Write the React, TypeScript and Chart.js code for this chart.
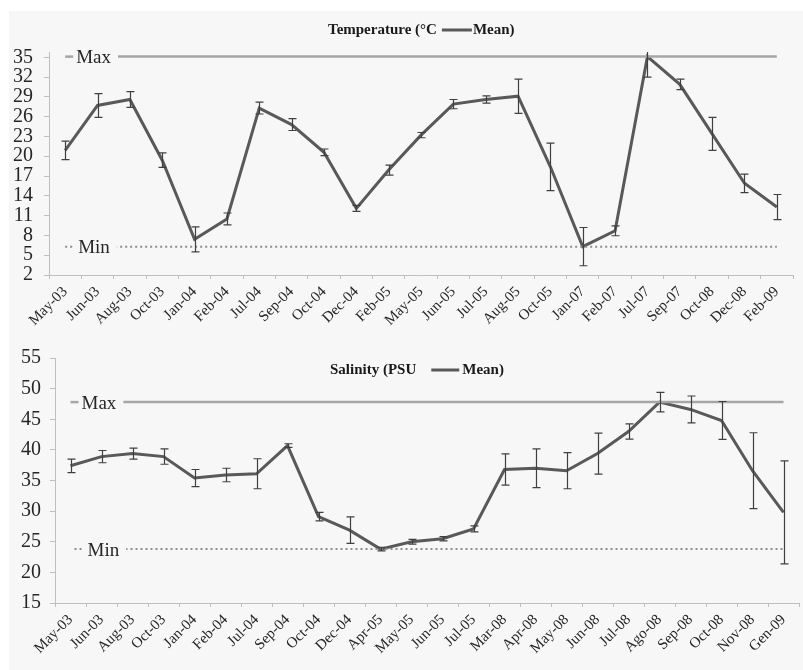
import React, { useEffect, useRef } from "react";
import { Chart, registerables } from "chart.js";

Chart.register(...registerables);

// ---------- Data ----------
const tempCategories = ["May-03", "Jun-03", "Aug-03", "Oct-03", "Jan-04", "Feb-04", "Jul-04", "Sep-04", "Oct-04", "Dec-04", "Feb-05", "May-05", "Jun-05", "Jul-05", "Aug-05", "Oct-05", "Jan-07", "Feb-07", "Jul-07", "Sep-07", "Oct-08", "Dec-08", "Feb-09"];
const tempMean = [20.9, 27.7, 28.6, 19.4, 7.4, 10.5, 27.3, 24.8, 20.6, 12.1, 17.9, 23.2, 27.9, 28.6, 29.1, 18.4, 6.3, 8.7, 35.1, 30.9, 23.4, 15.9, 12.3];
const tempErr = [1.4, 1.8, 1.2, 1.1, 1.9, 0.9, 0.9, 0.9, 0.5, 0.45, 0.75, 0.4, 0.7, 0.55, 2.6, 3.6, 2.9, 0.75, 3.1, 0.8, 2.5, 1.4, 1.9];
const tempMax = 35.1;
const tempMin = 6.3;
const tempTicks = [2, 5, 8, 11, 14, 17, 20, 23, 26, 29, 32, 35];

const salCategories = ["May-03", "Jun-03", "Aug-03", "Oct-03", "Jan-04", "Feb-04", "Jul-04", "Sep-04", "Oct-04", "Dec-04", "Apr-05", "May-05", "Jun-05", "Jul-05", "Mar-08", "Apr-08", "May-08", "Jun-08", "Jul-08", "Ago-08", "Sep-08", "Oct-08", "Nov-08", "Gen-09"];
const salMean = [37.4, 38.9, 39.4, 38.9, 35.4, 35.9, 36.1, 40.7, 29.1, 26.9, 23.8, 25.0, 25.5, 27.1, 36.8, 37.0, 36.6, 39.4, 43.0, 47.8, 46.6, 44.8, 36.6, 29.8];
const salErr = [1.1, 1.0, 0.9, 1.25, 1.4, 1.1, 2.45, 0.3, 0.7, 2.15, 0.3, 0.4, 0.35, 0.5, 2.55, 3.15, 2.95, 3.35, 1.25, 1.6, 2.2, 3.1, 6.2, 8.4];
const salMax = 47.8;
const salMin = 23.8;
const salTicks = [15, 20, 25, 30, 35, 40, 45, 50, 55];

// ---------- Styles ----------
const SERIF = "'Liberation Serif', 'Times New Roman', serif";
const PANEL = "#f7f7f7";
const MEAN_COLOR = "#595959";
const MAX_COLOR = "#a6a6a6";
const MIN_COLOR = "#8c8c8c";
const AXIS_COLOR = "#bfbfbf";
const TEXT_COLOR = "#262626";

const errorBarPlugin = {
  id: "errorBars",
  afterDatasetsDraw(chart: any, _args: any, opts: any) {
    const meta = chart.getDatasetMeta(opts.datasetIndex);
    const data = chart.data.datasets[opts.datasetIndex].data;
    const ys = chart.scales.y;
    const ctx = chart.ctx;
    const a = chart.chartArea;
    ctx.save();
    ctx.beginPath();
    ctx.rect(a.left, a.top, a.right - a.left, a.bottom - a.top);
    ctx.clip();
    ctx.strokeStyle = opts.color;
    ctx.lineWidth = 1.2;
    meta.data.forEach((pt: any, i: number) => {
      const v = data[i];
      const e = opts.errors[i];
      const x = Math.round(pt.x) + 0.5;
      const y1 = ys.getPixelForValue(v + e);
      const y2 = ys.getPixelForValue(v - e);
      ctx.beginPath();
      ctx.moveTo(x, y1);
      ctx.lineTo(x, y2);
      ctx.moveTo(x - 4, y1);
      ctx.lineTo(x + 4, y1);
      ctx.moveTo(x - 4, y2);
      ctx.lineTo(x + 4, y2);
      ctx.stroke();
    });
    ctx.restore();
  },
};

const refLabelPlugin = {
  id: "refLabels",
  afterDatasetsDraw(chart: any, _args: any, opts: any) {
    const ctx = chart.ctx;
    ctx.save();
    ctx.font = `19px ${SERIF}`;
    (opts.items || []).forEach((it: any) => {
      const meta = chart.getDatasetMeta(it.datasetIndex);
      const p = meta.data[0];
      const x0 = p.x + (it.offset || 0);
      const y = p.y;
      const keyLen = it.dotted ? 10 : 8;
      const tw = ctx.measureText(it.text).width;
      const textX = x0 + keyLen + 3;
      ctx.fillStyle = PANEL;
      ctx.fillRect(p.x - 6, y - 11, textX + tw + 7 - (p.x - 6), 22);
      ctx.strokeStyle = it.color;
      ctx.lineWidth = it.width;
      ctx.setLineDash(it.dotted ? [2, 3] : []);
      ctx.beginPath();
      ctx.moveTo(x0, y);
      ctx.lineTo(x0 + keyLen, y);
      ctx.stroke();
      ctx.setLineDash([]);
      ctx.fillStyle = TEXT_COLOR;
      ctx.textBaseline = "alphabetic";
      ctx.textAlign = "left";
      ctx.fillText(it.text, textX, y + 6.5);
    });
    ctx.restore();
  },
};

const titlePlugin = {
  id: "titleRow",
  afterDraw(chart: any, _args: any, opts: any) {
    const ctx = chart.ctx;
    ctx.save();
    ctx.font = `bold 15px ${SERIF}`;
    ctx.fillStyle = "#1a1a1a";
    ctx.textBaseline = "middle";
    ctx.textAlign = "left";
    ctx.fillText(opts.text1, opts.x, opts.y);
    const w1 = ctx.measureText(opts.text1).width;
    const lx = opts.x + w1 + opts.gap1;
    ctx.strokeStyle = MEAN_COLOR;
    ctx.lineWidth = 3;
    ctx.beginPath();
    ctx.moveTo(lx, opts.y);
    ctx.lineTo(lx + opts.lineLen, opts.y);
    ctx.stroke();
    ctx.fillText(opts.text2, lx + opts.lineLen + opts.gap2, opts.y);
    ctx.restore();
  },
};

function buildConfig(p: any) {
  return {
    type: "line",
    data: {
      labels: p.categories,
      datasets: [
        {
          label: "Max",
          data: p.categories.map(() => p.maxVal),
          borderColor: MAX_COLOR,
          borderWidth: 2.5,
          pointRadius: 0,
          borderCapStyle: "butt",
        },
        {
          label: "Min",
          data: p.categories.map(() => p.minVal),
          borderColor: MIN_COLOR,
          borderWidth: 2,
          borderDash: [2, 3],
          pointRadius: 0,
          borderCapStyle: "butt",
        },
        {
          label: "Mean",
          data: p.mean,
          borderColor: MEAN_COLOR,
          borderWidth: 3,
          pointRadius: 0,
          tension: 0,
        },
      ],
    },
    options: {
      responsive: false,
      animation: false,
      events: [],
      layout: { padding: p.padding },
      plugins: {
        legend: { display: false },
        title: { display: false },
        tooltip: { enabled: false },
        errorBars: { datasetIndex: 2, errors: p.err, color: "#404040" },
        refLabels: {
          items: [
            { datasetIndex: 0, text: "Max", color: MAX_COLOR, width: 2.5, dotted: false, offset: p.maxOffset },
            { datasetIndex: 1, text: "Min", color: MIN_COLOR, width: 2, dotted: true, offset: p.minOffset },
          ],
        },
        titleRow: p.title,
      },
      scales: {
        x: {
          type: "category",
          offset: true,
          afterFit: (s: any) => {
            s.height = p.xHeight;
          },
          grid: {
            offset: true,
            drawOnChartArea: false,
            drawTicks: true,
            tickLength: 4,
            color: AXIS_COLOR,
          },
          border: { color: AXIS_COLOR, width: 1 },
          ticks: {
            autoSkip: false,
            maxRotation: 45,
            minRotation: 45,
            padding: 4,
            color: TEXT_COLOR,
            font: { family: SERIF, size: 15 },
          },
        },
        y: {
          min: p.yMin,
          max: p.yMax,
          afterFit: (s: any) => {
            s.width = p.yWidth;
          },
          afterBuildTicks: (s: any) => {
            s.ticks = p.ticks.map((v: number) => ({ value: v }));
          },
          grid: {
            drawOnChartArea: false,
            drawTicks: true,
            tickLength: 5,
            color: AXIS_COLOR,
          },
          border: { color: AXIS_COLOR, width: 1 },
          ticks: {
            autoSkip: false,
            padding: p.yPad,
            color: TEXT_COLOR,
            font: { family: SERIF, size: 20 },
          },
        },
      },
    },
    plugins: [errorBarPlugin, refLabelPlugin, titlePlugin],
  } as any;
}

function ChartCanvas({ params, top }: { params: any; top: number }) {
  const ref = useRef<HTMLCanvasElement | null>(null);
  useEffect(() => {
    if (!ref.current) return;
    const chart = new Chart(ref.current, buildConfig(params));
    return () => chart.destroy();
  }, [params]);
  return (
    <canvas
      ref={ref}
      width={803}
      height={335}
      style={{ position: "absolute", left: 0, top, width: 803, height: 335 }}
    />
  );
}

const tempParams = {
  categories: tempCategories,
  mean: tempMean,
  err: tempErr,
  maxVal: tempMax,
  minVal: tempMin,
  ticks: tempTicks,
  yMin: 2,
  yMax: 35.8,
  yWidth: 49,
  yPad: 11,
  xHeight: 60,
  padding: { top: 52, right: 10, left: 0, bottom: 0 },
  maxOffset: 0,
  minOffset: 0,
  title: { text1: "Temperature (°C", text2: "Mean)", x: 328, y: 30, gap1: 5, lineLen: 30, gap2: 1 },
};

const salParams = {
  categories: salCategories,
  mean: salMean,
  err: salErr,
  maxVal: salMax,
  minVal: salMin,
  ticks: salTicks,
  yMin: 15,
  yMax: 55,
  yWidth: 55,
  yPad: 9,
  xHeight: 67,
  padding: { top: 23, right: 4, left: 0, bottom: 0 },
  maxOffset: 0,
  minOffset: 4,
  title: { text1: "Salinity (PSU", text2: "Mean)", x: 330, y: 35, gap1: 15, lineLen: 28, gap2: 3 },
};

export default function App() {
  return (
    <div style={{ position: "absolute", left: 0, top: 0, width: 803, height: 670, background: "#ffffff", overflow: "hidden" }}>
      <div style={{ position: "absolute", left: 9, top: 11, right: 0, bottom: 0, background: PANEL }} />
      <ChartCanvas params={tempParams} top={0} />
      <ChartCanvas params={salParams} top={335} />
    </div>
  );
}
